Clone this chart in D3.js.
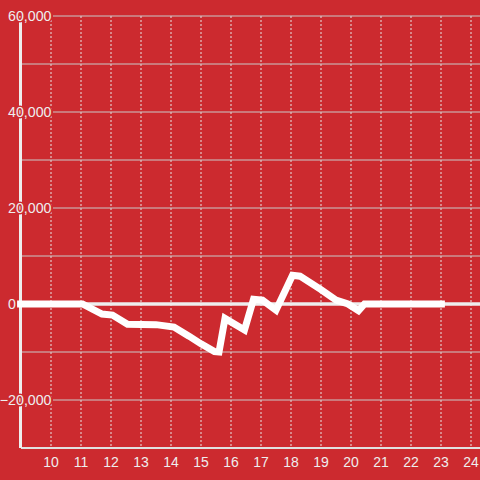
<!DOCTYPE html>
<html>
<head>
<meta charset="utf-8">
<script src="https://cdn.jsdelivr.net/npm/d3@7"></script>
<style>
  html, body { margin: 0; padding: 0; background: #cc2a2f; }
  svg { display: block; }
</style>
</head>
<body>
<svg id="chart" width="480" height="480"></svg>
<script>
// Data (hour of day, value)
const hours  = [8.87, 11.05, 11.7, 12.05, 12.55, 13.5, 14.1, 14.6, 15.0, 15.45, 15.6, 15.8, 16.45, 16.75, 17.05, 17.5, 18.05, 18.3, 19.0, 19.5, 19.9, 20.25, 20.45, 23.13];
const values = [0, 0, -2100, -2300, -4200, -4300, -4800, -6700, -8300, -9900, -10000, -3000, -5400, 1000, 800, -1300, 6000, 5800, 3000, 800, 0, -1400, 0, 0];
const xTicks = [10, 11, 12, 13, 14, 15, 16, 17, 18, 19, 20, 21, 22, 23, 24];
const yMajorTicks = [60000, 40000, 20000, 0, -20000];
const yMinorTicks = [50000, 30000, 10000, -10000];

const W = 480, H = 480;
const BG = "#cc2a2f";
const FONT = "Liberation Sans";
const svg = d3.select("#chart");
svg.append("rect").attr("width", W).attr("height", H).attr("fill", BG);

const x = d3.scaleLinear().domain([9, 24.3]).range([21, 480]);
const y = d3.scaleLinear().domain([-30000, 60000]).range([448, 16]);

// vertical dotted gridlines
svg.append("g").selectAll("line").data(xTicks).join("line")
  .attr("x1", d => x(d)).attr("x2", d => x(d))
  .attr("y1", y(60000)).attr("y2", y(-30000))
  .attr("stroke", "#e6e6e6").attr("stroke-width", 1)
  .attr("stroke-dasharray", "2,2");

// minor horizontal gridlines
svg.append("g").selectAll("line").data(yMinorTicks).join("line")
  .attr("x1", x(9)).attr("x2", W)
  .attr("y1", d => y(d)).attr("y2", d => y(d))
  .attr("stroke", "#c9c9c9").attr("stroke-width", 1);

// major horizontal gridlines (start after labels)
svg.append("g").selectAll("line").data(yMajorTicks.filter(d => d !== 0)).join("line")
  .attr("x1", 53).attr("x2", W)
  .attr("y1", d => y(d)).attr("y2", d => y(d))
  .attr("stroke", "#c9c9c9").attr("stroke-width", 1);

// bottom axis line
svg.append("line")
  .attr("x1", x(9)).attr("x2", W)
  .attr("y1", y(-30000)).attr("y2", y(-30000))
  .attr("stroke", "#e0e0e0").attr("stroke-width", 2);

// left axis line
svg.append("line")
  .attr("x1", x(9) - 0.5).attr("x2", x(9) - 0.5)
  .attr("y1", y(60000)).attr("y2", y(-30000))
  .attr("stroke", "#eeeeee").attr("stroke-width", 3);

// zero line
svg.append("line")
  .attr("x1", 17).attr("x2", W)
  .attr("y1", y(0)).attr("y2", y(0))
  .attr("stroke", "#eeeeee").attr("stroke-width", 3.5);

// data line
const pts = hours.map((h, i) => [h, values[i]]);
svg.append("path")
  .datum(pts)
  .attr("fill", "none")
  .attr("stroke", "#ffffff")
  .attr("stroke-width", 7)
  .attr("stroke-linejoin", "miter")
  .attr("d", d3.line().x(d => x(d[0])).y(d => y(d[1])));

// y labels with halo
const fmt = d3.format(",");
svg.append("g").selectAll("text").data(yMajorTicks).join("text")
  .attr("x", d => d === 0 ? 16 : 51.5).attr("y", d => y(d)).attr("dy", "0.35em")
  .attr("text-anchor", "end")
  .attr("font-family", FONT).attr("font-size", 14.2)
  .attr("fill", "#eeeeee")
  .attr("stroke", BG).attr("stroke-width", 3)
  .attr("paint-order", "stroke")
  .text(d => fmt(d));

// x labels
svg.append("g").selectAll("text").data(xTicks).join("text")
  .attr("x", d => x(d)).attr("y", 467)
  .attr("text-anchor", "middle")
  .attr("font-family", FONT).attr("font-size", 14)
  .attr("fill", "#eeeeee")
  .text(d => d);
</script>
</body>
</html>
